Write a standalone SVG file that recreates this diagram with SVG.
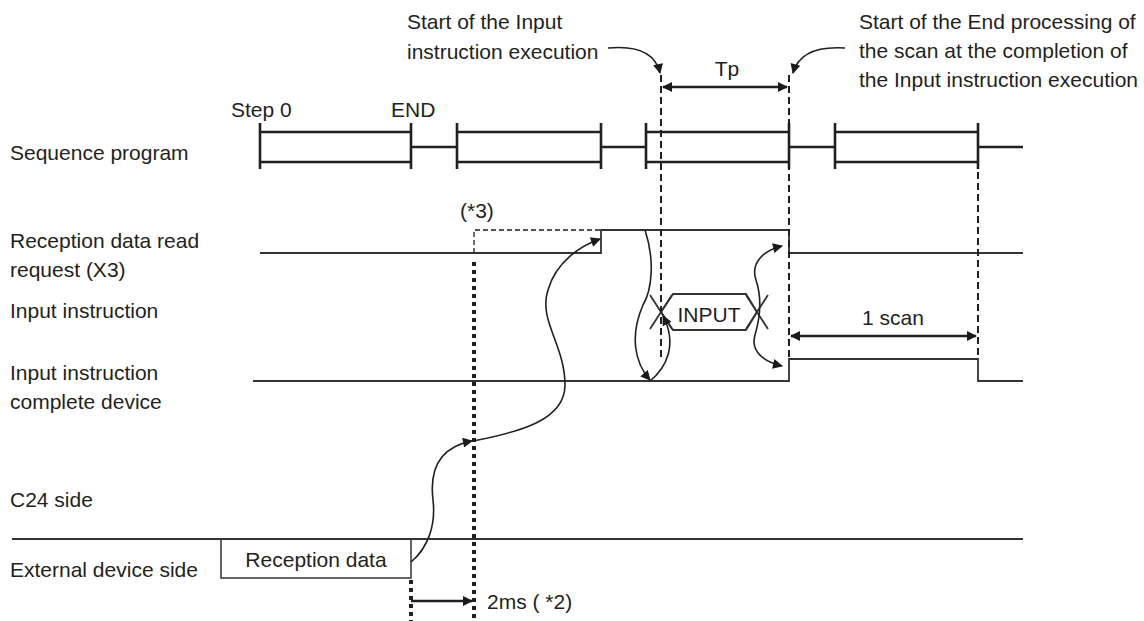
<svg xmlns="http://www.w3.org/2000/svg" width="1144" height="621" viewBox="0 0 1144 621">
<defs>
<marker id="ah" viewBox="0 0 10 10" refX="9" refY="5" markerWidth="13" markerHeight="10" markerUnits="userSpaceOnUse" orient="auto-start-reverse"><path d="M0,0 L10,5 L0,10 z" fill="#1a1a1a"/></marker>
<style>
text{font-family:"Liberation Sans",Arial,sans-serif;font-size:21px;fill:#231f20}
.prog{stroke:#231f20;stroke-width:2.6;fill:none}
.sig{stroke:#333;stroke-width:1.8;fill:none}
.dash{stroke:#231f20;stroke-width:2;stroke-dasharray:7 4;fill:none}
.dot{stroke:#231f20;stroke-width:4;stroke-dasharray:4 4;fill:none}
.thin{stroke:#231f20;stroke-width:1.3;stroke-dasharray:5 3;fill:none}
.curve{stroke:#231f20;stroke-width:1.6;fill:none}
.arr{stroke:#231f20;stroke-width:2.4;fill:none}
</style>
</defs>
<rect width="1144" height="621" fill="#fff"/>

<g id="labels">
<text x="10" y="160">Sequence program</text>
<text x="10" y="248">Reception data read</text>
<text x="10" y="277">request (X3)</text>
<text x="10" y="318">Input instruction</text>
<text x="10" y="380">Input instruction</text>
<text x="10" y="409">complete device</text>
<text x="10" y="507">C24 side</text>
<text x="10" y="577">External device side</text>
</g>

<g id="annotations">
<text x="407" y="29">Start of the Input</text>
<text x="407" y="59">instruction execution</text>
<text x="859" y="29">Start of the End processing of</text>
<text x="859" y="58">the scan at the completion of</text>
<text x="859" y="87">the Input instruction execution</text>
<text x="727" y="76" text-anchor="middle">Tp</text>
<text x="231" y="117">Step 0</text>
<text x="391" y="117">END</text>
<text x="460" y="218">(*3)</text>
<text x="893" y="325" text-anchor="middle">1 scan</text>
<text x="487" y="609">2ms ( *2)</text>
</g>

<g id="sequence-program">
<path class="prog" d="M260,123 V169 M260,132 H411 M260,162 H411 M411,123 V169 M411,147 H457 M457,123 V169 M457,132 H601 M457,162 H601 M601,123 V169 M601,147 H646 M646,123 V169 M646,132 H789 M646,162 H789 M789,123 V169 M789,147 H835 M835,123 V169 M835,132 H978 M835,162 H978 M978,123 V169 M978,147 H1023"/>
</g>

<g id="signal-x3">
<path class="sig" d="M260,253 H601 V230 H789 V253 H1023"/>
<path class="thin" d="M474,253 V230 H601"/>
</g>

<g id="input-instruction">
<path class="sig" d="M661,312 L673,294 H746 L757,312 L746,330 H673 Z" stroke-width="1.4"/>
<path class="sig" stroke-width="1.4" d="M650,295 L672,329 M672,295 L650,329 M746,295 L768,329 M768,295 L746,329"/>
<text x="709" y="322" text-anchor="middle">INPUT</text>
</g>

<g id="signal-complete">
<path class="sig" d="M253,381 H789 V359 H978 V381 H1023"/>
</g>

<g id="c24-external">
<path class="sig" d="M12,539 H1023" stroke-width="2"/>
<rect x="221" y="539" width="190" height="39" fill="none" stroke="#333" stroke-width="1.5"/>
<text x="316" y="567" text-anchor="middle">Reception data</text>
</g>

<g id="connectors">
<path class="dash" d="M661,75 V357 M789,75 V357 M978,172 V358"/>
<path class="dot" d="M474,262 V621 M411,580 V621"/>
<path class="arr" d="M663,87 H787" marker-start="url(#ah)" marker-end="url(#ah)"/>
<path class="arr" d="M791,336 H976" marker-start="url(#ah)" marker-end="url(#ah)"/>
<path class="arr" d="M411,601 H472" marker-end="url(#ah)"/>
<path class="curve" d="M608,48 C640,45 656,55 660,73" marker-end="url(#ah)"/>
<path class="curve" d="M845,48 C815,46 798,55 793,73" marker-end="url(#ah)"/>
<path class="curve" d="M411,562 C428,548 436,525 433,500 C430,475 435,448 472,441" marker-end="url(#ah)"/>
<path class="curve" d="M473,441 C520,432 565,420 565,385 C565,345 538,320 548,290 C556,262 580,246 600,239" marker-end="url(#ah)"/>
<path class="curve" d="M645,230 C655,260 652,290 643,305 C630,335 634,362 650,380" marker-end="url(#ah)"/>
<path class="curve" d="M650,381 C666,368 678,345 663,316" marker-end="url(#ah)"/>
<path class="curve" d="M782,246 C765,250 750,262 756,280 C762,298 760,318 755,335 C750,352 765,362 782,366" marker-start="url(#ah)" marker-end="url(#ah)"/>
</g>
</svg>
